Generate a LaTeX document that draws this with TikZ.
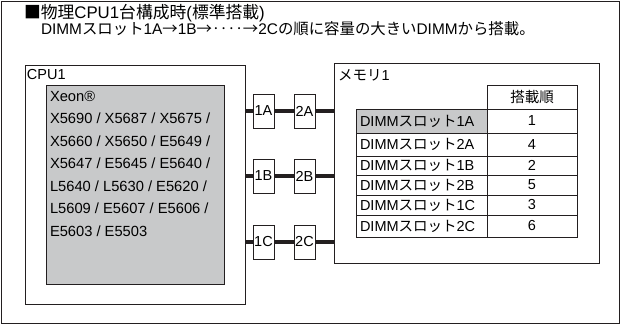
\documentclass[tikz,border=0pt]{standalone}
\usepackage{fontspec}
\setmainfont{Liberation Sans}
\newfontfamily\jpfont{Noto Sans CJK JP}
\newcommand{\jtext}[1]{{\jpfont #1}}
\usetikzlibrary{positioning}
\definecolor{inkgrey}{HTML}{231F20}
\definecolor{chipgrey}{HTML}{C8C9CA}
\tikzset{
  frame/.style={draw=inkgrey, line width=1pt},
  box/.style={draw=inkgrey, line width=1pt, anchor=north west, inner sep=0pt, outer sep=0pt},
  slot/.style={draw=inkgrey, line width=1pt, fill=white, minimum width=21pt, minimum height=34pt, inner sep=0pt, outer sep=0pt},
  bus/.style={draw=inkgrey, line width=3.5pt},
  txt/.style={inner sep=0pt, outer sep=0pt},
  dimmcell/.style={draw=inkgrey, line width=1pt, text width=123pt, inner xsep=4pt, inner ysep=0pt, outer sep=0pt, align=left},
  numcell/.style={draw=inkgrey, line width=1pt, text width=82pt, inner xsep=4pt, inner ysep=0pt, outer sep=0pt, align=center}
}

\begin{document}
\begin{tikzpicture}[x=1pt, y=-1pt, font=\fontsize{14.5}{17}\selectfont]
  \useasboundingbox (0,0) rectangle (621,325);
  \draw[frame] (1.5,1.5) rectangle (619.5,323.5);

  \node[txt, anchor=west, font=\fontsize{16.8}{19}\selectfont] (title) at (24,13) {\jtext{■物理}CPU1\jtext{台構成時}(\jtext{標準搭載})};
  \node[txt, anchor=west, font=\fontsize{15.4}{18}\selectfont] (note) at (41,29) {DIMM\jtext{スロット}1A\jtext{→}1B\jtext{→‥‥→}2C\jtext{の順に容量の大きい}DIMM\jtext{から搭載。}};

  \node[box, minimum width=220pt, minimum height=239pt] (cpu) at (25,65) {};
  \node[txt, anchor=west] (cpuname) at (27,74.5) {CPU1};
  \node[box, fill=chipgrey, minimum width=178pt, minimum height=199pt] (xeon) at (46,85) {};
  \node[txt, anchor=north west, align=left, font=\fontsize{14.7}{22.5}\selectfont] (xeonlist) at (50,91)
    {Xeon®\\X5690 / X5687 / X5675 /\\X5660 / X5650 / E5649 /\\X5647 / E5645 / E5640 /\\L5640 / L5630 / E5620 /\\L5609 / E5607 / E5606 /\\E5603 / E5503};

  \node[box, minimum width=265pt, minimum height=200pt] (mem) at (334,63) {};
  \node[txt, anchor=west] (memname) at (338,75) {\jtext{メモリ}1};

  \node[slot] (s1A) at (263.5,111) {1A};
  \node[slot, right=20pt of s1A] (s2A) {2A};
  \node[slot] (s1B) at (263.5,176) {1B};
  \node[slot, right=20pt of s1B] (s2B) {2B};
  \node[slot] (s1C) at (263.5,242) {1C};
  \node[slot, right=20pt of s1C] (s2C) {2C};

  \draw[bus] (s1A.west -| cpu.east) -- (s1A.west);
  \draw[bus] (s1A.east) -- (s2A.west);
  \draw[bus] (s2A.east) -- (s2A.east -| mem.west);
  \draw[bus] (s1B.west -| cpu.east) -- (s1B.west);
  \draw[bus] (s1B.east) -- (s2B.west);
  \draw[bus] (s2B.east) -- (s2B.east -| mem.west);
  \draw[bus] (s1C.west -| cpu.east) -- (s1C.west);
  \draw[bus] (s1C.east) -- (s2C.west);
  \draw[bus] (s2C.east) -- (s2C.east -| mem.west);

  \node[numcell, minimum height=24pt, anchor=north west] (head) at (487,85) {\jtext{搭載順}};
  \node[dimmcell, fill=chipgrey, minimum height=24pt, anchor=north east] (d1A) at (head.south west) {DIMM\jtext{スロット}1A};
  \node[numcell, minimum height=24pt, right=0pt of d1A] (n1A) {1};
  \node[dimmcell, minimum height=23pt, below=0pt of d1A] (d2A) {DIMM\jtext{スロット}2A};
  \node[numcell, minimum height=23pt, right=0pt of d2A] (n2A) {4};
  \node[dimmcell, minimum height=19pt, below=0pt of d2A] (d1B) {DIMM\jtext{スロット}1B};
  \node[numcell, minimum height=19pt, right=0pt of d1B] (n1B) {2};
  \node[dimmcell, minimum height=20pt, below=0pt of d1B] (d2B) {DIMM\jtext{スロット}2B};
  \node[numcell, minimum height=20pt, right=0pt of d2B] (n2B) {5};
  \node[dimmcell, minimum height=20pt, below=0pt of d2B] (d1C) {DIMM\jtext{スロット}1C};
  \node[numcell, minimum height=20pt, right=0pt of d1C] (n1C) {3};
  \node[dimmcell, minimum height=22pt, below=0pt of d1C] (d2C) {DIMM\jtext{スロット}2C};
  \node[numcell, minimum height=22pt, right=0pt of d2C] (n2C) {6};
\end{tikzpicture}
\end{document}
